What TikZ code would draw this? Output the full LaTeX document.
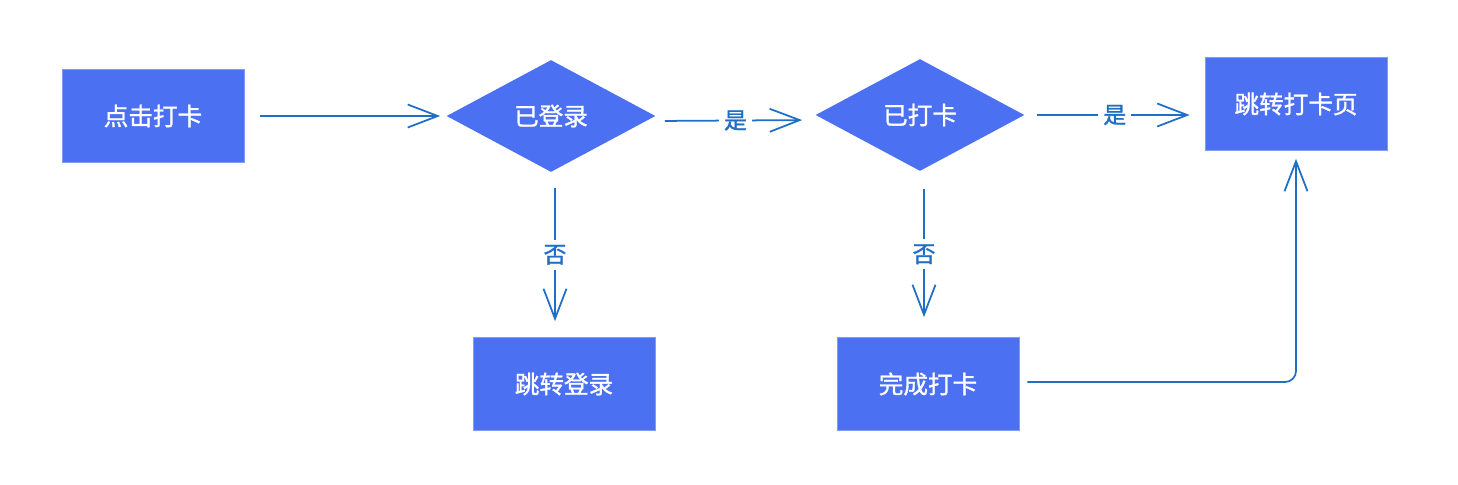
\documentclass[tikz,border=0pt]{standalone}
\usepackage{fontspec}
\newfontfamily\cjk[FakeBold=1.2]{Noto Sans CJK SC}
\newfontfamily\cjklb{Noto Sans CJK SC}
\usepackage{xcolor}
\usepackage{tikz}
\usetikzlibrary{shapes.geometric, arrows.meta, positioning, calc}
\definecolor{boxblue}{HTML}{4C70F2}
\definecolor{lineblue}{HTML}{1F6FC4}

\begin{document}
\begin{tikzpicture}[x=0.02cm,y=-0.02cm]
\tikzset{
  nb/.style={rectangle,draw=boxblue!70,fill=boxblue,minimum width=3.64cm,minimum height=1.86cm,inner sep=0pt,text=white,font=\cjk\fontsize{14}{16}\selectfont},
  nd/.style={diamond,draw=none,fill=boxblue,minimum width=4.18cm,minimum height=2.24cm,inner sep=0pt,text=white,font=\cjk\fontsize{14}{16}\selectfont},
  ar/.style={-{Straight Barb[length=0.6cm,width=0.46cm]},line width=1pt,draw=lineblue},
  lb/.style={fill=white,inner sep=3pt,text=lineblue,font=\cjk\fontsize{13}{15}\selectfont}
}
\useasboundingbox (0,0) rectangle (1458,484);
\node[nb] (start) at (153,116) {点击打卡};
\node[nd] (login) at (551,116) {已登录};
\node[nd] (punched) at (920,115) {已打卡};
\node[nb] (page) at (1296,104) {跳转打卡页};
\node[nb] (tologin) at (564,384) {跳转登录};
\node[nb] (done) at (928,384) {完成打卡};
\draw[ar,shorten <=0.32cm,shorten >=0.12cm] (start.east) -- (login.west);
\draw[ar,shorten <=0.18cm,shorten >=0.26cm] ([yshift=-0.1cm]login.east) -- node[lb]{是} ([yshift=-0.1cm]punched.west);
\draw[ar,shorten <=0.24cm,shorten >=0.3cm] (punched.east) -- node[lb]{是} (punched.east -| page.west);
\draw[ar,shorten <=0.32cm,shorten >=0.32cm] ([xshift=0.08cm]login.south) -- node[lb]{否} ([xshift=0.08cm]login.south |- tologin.north);
\draw[ar,shorten <=0.36cm,shorten >=0.4cm] ([xshift=0.08cm]punched.south) -- node[lb]{否} ([xshift=0.08cm]punched.south |- done.north);
\draw[ar,rounded corners=0.22cm,shorten <=0.16cm,shorten >=0.16cm] ([yshift=0.04cm]done.east) -| (page.south);
\end{tikzpicture}
\end{document}
